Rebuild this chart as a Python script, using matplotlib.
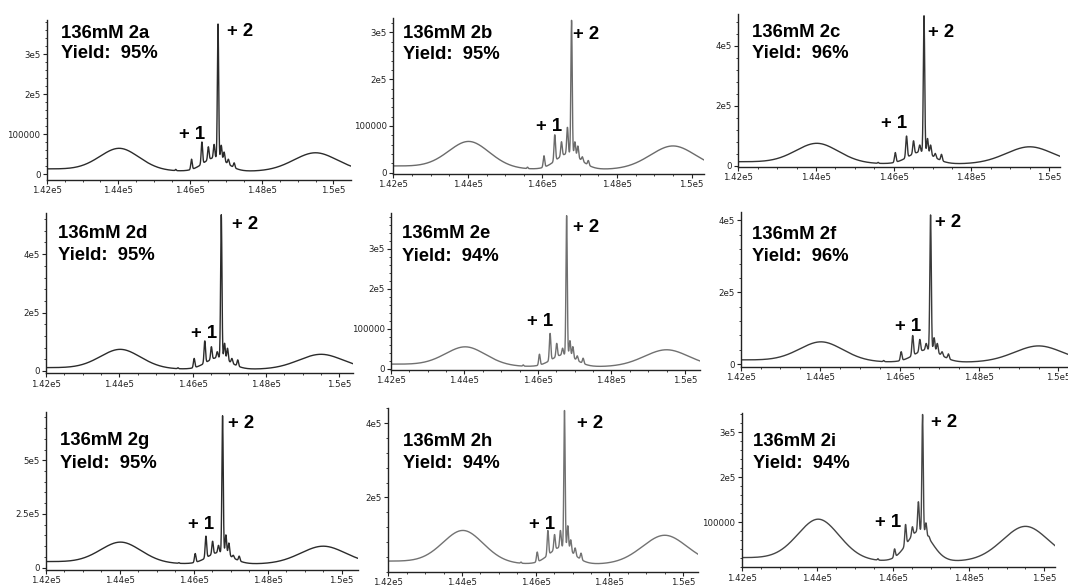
import numpy as np
import matplotlib
matplotlib.use('Agg')
import matplotlib.pyplot as plt
from matplotlib.ticker import FixedLocator, AutoMinorLocator

# ---- values (mass in Da, intensity in counts) ----
samples = ['2a', '2b', '2c', '2d', '2e', '2f', '2g', '2h', '2i']
yields = [95, 95, 96, 95, 94, 96, 95, 94, 94]

main_mass = 1.4678e5
main_peak = [3.75e5, 3.26e5, 5.0e5, 5.35e5, 3.83e5, 4.15e5, 7.07e5, 4.34e5, 3.4e5]

broad_mass = [1.4403e5, 1.4950e5]
broad_left = [6.2e4, 6.4e4, 7.2e4, 7.2e4, 5.3e4, 6.0e4, 1.15e5, 1.08e5, 1.04e5]
broad_right = [5.3e4, 5.7e4, 6.3e4, 5.7e4, 4.8e4, 5.1e4, 1.0e5, 9.8e4, 9.1e4]
edge_left = [1.25e4, 1.4e4, 1.3e4, 1.1e4, 1.2e4, 1.2e4, 2.8e4, 2.8e4, 2.1e4]
floor_level = [6e3, 6e3, 5e3, 5e3, 5e3, 5e3, 1.6e4, 1.9e4, 1.2e4]
pedestal = [4e4, 4e4, 4.5e4, 4.5e4, 3.5e4, 4e4, 7e4, 6.5e4, 8e4]

cluster_mass = [1.4604e5, 1.4633e5, 1.4651e5, 1.4667e5, 1.4687e5, 1.4695e5, 1.4707e5, 1.4723e5]
cluster_height = [
    [3.7e4, 8.0e4, 6.8e4, 7.4e4, 7.2e4, 5.5e4, 3.7e4, 2.8e4],
    [3.6e4, 8.1e4, 6.6e4, 9.7e4, 6.6e4, 5.7e4, 3.4e4, 2.6e4],
    [4.4e4, 9.9e4, 8.3e4, 6.9e4, 9.1e4, 6.9e4, 4.1e4, 3.8e4],
    [4.3e4, 1.03e5, 8.3e4, 6.6e4, 9.5e4, 7.8e4, 4.3e4, 3.8e4],
    [3.7e4, 8.9e4, 6.4e4, 5.2e4, 7.1e4, 5.6e4, 3.3e4, 2.7e4],
    [3.5e4, 8.0e4, 6.9e4, 5.8e4, 7.4e4, 5.8e4, 3.5e4, 2.9e4],
    [6.6e4, 1.47e5, 1.23e5, 1.04e5, 1.53e5, 1.15e5, 5.8e4, 5.4e4],
    [5.3e4, 1.11e5, 1.0e5, 1.11e5, 1.24e5, 8.6e4, 6.4e4, 5.0e4],
    [4.1e4, 9.5e4, 9.0e4, 1.46e5, 9.9e4, 6.9e4, 4.0e4, 3.2e4],
]

xtick_vals = [1.42e5, 1.44e5, 1.46e5, 1.48e5, 1.5e5]
xtick_text = ['1.42e5', '1.44e5', '1.46e5', '1.48e5', '1.5e5']
ytick_vals = [[0, 1e5, 2e5, 3e5], [0, 1e5, 2e5, 3e5], [0, 2e5, 4e5],
              [0, 2e5, 4e5], [0, 1e5, 2e5, 3e5], [0, 2e5, 4e5],
              [0, 2.5e5, 5e5], [2e5, 4e5], [1e5, 2e5, 3e5]]
ytick_text = [['0', '100000', '2e5', '3e5'], ['0', '100000', '2e5', '3e5'], ['0', '2e5', '4e5'],
              ['0', '2e5', '4e5'], ['0', '100000', '2e5', '3e5'], ['0', '2e5', '4e5'],
              ['0', '2.5e5', '5e5'], ['2e5', '4e5'], ['100000', '2e5', '3e5']]

# ---- layout (pixels of a 1068x587 canvas) ----
W, H = 1068, 587
boxes = [(46.7, 20, 351, 180), (393.3, 18, 704.3, 174), (738.3, 14, 1060, 166.7),
         (46, 213.3, 353.3, 373.3), (391, 213.3, 700, 370), (740.7, 211.7, 1068, 366.7),
         (45.7, 411.7, 358, 570), (388.3, 408.3, 698.3, 571.7), (741.7, 412.7, 1055, 567.3)]
ylims = [(-1.5e4, 3.85e5), (-3e3, 3.31e5), (-3.3e3, 5.06e5),
         (-8e3, 5.4e5), (-2.5e3, 3.89e5), (-6.7e3, 4.24e5),
         (-1.07e4, 7.26e5), (0, 4.4e5), (0, 3.44e5)]
xmaxs = [1.5049e5, 1.5034e5, 1.5028e5, 1.5038e5, 1.5041e5, 1.5024e5, 1.5044e5, 1.5041e5, 1.5028e5]
line_colors = ['#2b2b2b', '#6b6b6b', '#333333', '#2b2b2b', '#707070', '#3a3a3a',
               '#2b2b2b', '#727272', '#454545']
# (title x, title baseline, yield baseline, +2 x, +2 baseline, +1 x, +1 baseline)
labels_pos = [(61, 37.7, 58, 227, 36, 179, 139),
              (403.3, 37.7, 59.3, 573.3, 39, 536, 130.7),
              (751.7, 37.3, 58.3, 928.3, 36.7, 880.7, 128.3),
              (57.7, 237.7, 260, 231.7, 229, 191, 337.7),
              (401.7, 238.3, 261, 573.3, 232.3, 527.3, 325.7),
              (751.7, 239, 261, 935, 227.3, 895, 330.7),
              (60, 445, 468.3, 228.3, 428.3, 188.3, 529.3),
              (403.3, 446, 468.3, 576.7, 427.7, 529, 529.3),
              (752.7, 446, 468.3, 931, 426.7, 875, 526.7)]


def gauss(x, c, s):
    return np.exp(-0.5 * ((x - c) / s) ** 2)


def broad(x, c, s):
    # mostly gaussian with a slight lorentzian skirt
    d = (x - c) / s
    return 0.88 * np.exp(-0.5 * d ** 2) + 0.12 / (1 + d ** 2)


mass = np.arange(1.42e5, 1.5065e5, 4.0)

fig = plt.figure(figsize=(W / 100, H / 100), dpi=100)
fig.patch.set_facecolor('white')
font = dict(fontsize=13.3, fontweight='bold', family='Liberation Sans', va='baseline')

for i in range(len(samples)):
    l, t, r, b = boxes[i]
    ax = fig.add_axes([l / W, 1 - b / H, (r - l) / W, (b - t) / H])

    fl = floor_level[i]
    tail = (edge_left[i] - fl) * gauss(mass, 1.415e5, 1700)
    b1 = (broad_left[i] - fl) * broad(mass, broad_mass[0], 570)
    b2 = (broad_right[i] - fl) * broad(mass, broad_mass[1], 630)
    ped = (pedestal[i] - fl) * gauss(mass, 1.4670e5, 330)
    under = fl + tail + b1 + b2 + ped
    y = under.copy()
    for c, h in zip(cluster_mass + [main_mass], cluster_height[i] + [main_peak[i]]):
        k = np.argmin(np.abs(mass - c))
        amp = max(h - under[k], 0)
        y = y + amp * gauss(mass, c, 18 if c == main_mass else 20)
    # small spike near 1.456e5
    y = y + 3e3 * gauss(mass, 1.4560e5, 15)

    ax.plot(mass, y, color=line_colors[i], lw=1.0)
    ax.set_xlim(1.42e5, xmaxs[i])
    ax.set_ylim(*ylims[i])

    for side in ['top', 'right']:
        ax.spines[side].set_visible(False)
    for side in ['left', 'bottom']:
        ax.spines[side].set_color('#222222')
        ax.spines[side].set_linewidth(1.0)

    ax.xaxis.set_major_locator(FixedLocator(xtick_vals))
    ax.set_xticklabels(xtick_text)
    ax.xaxis.set_minor_locator(AutoMinorLocator(4))
    ax.yaxis.set_major_locator(FixedLocator(ytick_vals[i]))
    ax.set_yticklabels(ytick_text[i])
    ax.yaxis.set_minor_locator(AutoMinorLocator(5))
    ax.tick_params(which='major', length=3, width=0.8, color='#222222',
                   labelsize=6.2, pad=1.5, labelcolor='#222222')
    ax.tick_params(which='minor', length=1.6, width=0.6, color='#222222')
    ax.patch.set_alpha(0)

    tx, tb, yb, p2x, p2b, p1x, p1b = labels_pos[i]
    fig.text(tx / W, 1 - tb / H, '136mM ' + samples[i], **font)
    fig.text(tx / W, 1 - yb / H, 'Yield:  %d%%' % yields[i], **font)
    fig.text(p2x / W, 1 - p2b / H, '+ 2', **font)
    fig.text(p1x / W, 1 - p1b / H, '+ 1', **font)

fig.savefig('out.png', dpi=100)
